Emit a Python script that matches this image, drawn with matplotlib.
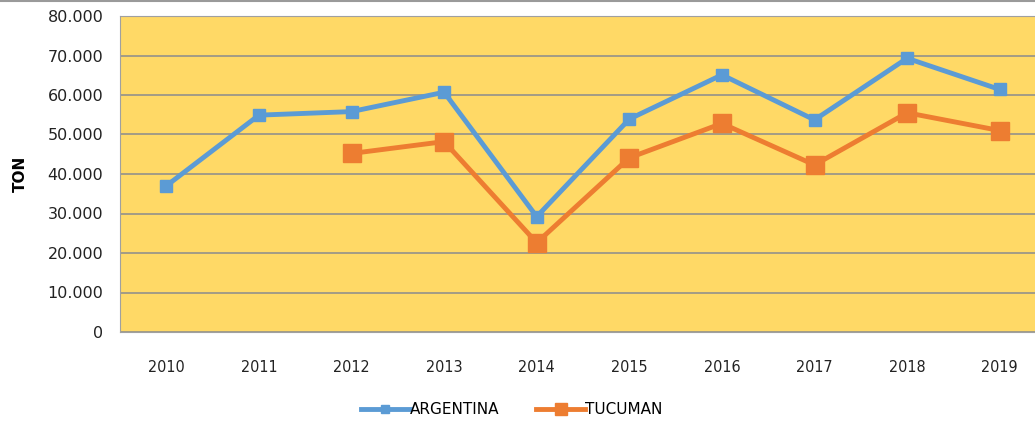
import matplotlib.pyplot as plt
import numpy as np

years = ["2010", "2011", "2012", "2013", "2014", "2015", "2016", "2017", "2018", "2019"]
argentina = [37000, 54900, 55800, 60700, 29200, 53900, 65100, 53700, 69300, 61400]
tucuman = [np.nan, np.nan, 45200, 48200, 22600, 44100, 52800, 42300, 55500, 51000]
yticks = [0, 10000, 20000, 30000, 40000, 50000, 60000, 70000, 80000]
ytick_labels = ["0", "10.000", "20.000", "30.000", "40.000", "50.000", "60.000", "70.000", "80.000"]


def main():
    fig = plt.figure(figsize=(10.35, 4.21), dpi=100)
    ax = fig.add_axes([120 / 1035, 1 - 332 / 421, 926 / 1035, 316 / 421])
    ax.set_facecolor("#FFD966")

    x = np.arange(len(years))
    ax.plot(x, argentina, color="#5B9BD5", lw=3.5, marker="s", ms=8,
            label="ARGENTINA", zorder=3)
    ax.plot(x, tucuman, color="#ED7D31", lw=3.5, marker="s", ms=13,
            label="TUCUMAN", zorder=3)

    ax.set_xlim(-0.5, len(years) - 0.5)
    ax.set_ylim(0, 80000)
    ax.set_yticks(yticks)
    ax.set_yticklabels(ytick_labels)
    ax.set_xticks(x)
    ax.set_xticklabels(years, fontstretch="condensed")
    ax.yaxis.grid(True, color="#9c9788", lw=1.3)
    ax.set_axisbelow(True)
    ax.tick_params(length=0, labelsize=11.5, colors="#222222")
    ax.tick_params(axis="x", pad=20)
    ax.tick_params(axis="y", pad=12)
    for s in ax.spines.values():
        s.set_color("#a0a0a0")
    ax.set_ylabel("TON", fontsize=11, fontweight="bold", labelpad=14)

    ax.legend(loc="center", bbox_to_anchor=(0.423, -0.245), ncol=2, frameon=False,
              fontsize=11, handlelength=3.2, handletextpad=0.0, columnspacing=2.4,
              markerscale=0.7)

    fig.add_artist(plt.Line2D([0, 1], [0.998, 0.998], color="#9a9a9a", lw=1.5))
    fig.savefig("out.png", dpi=100)


main()
